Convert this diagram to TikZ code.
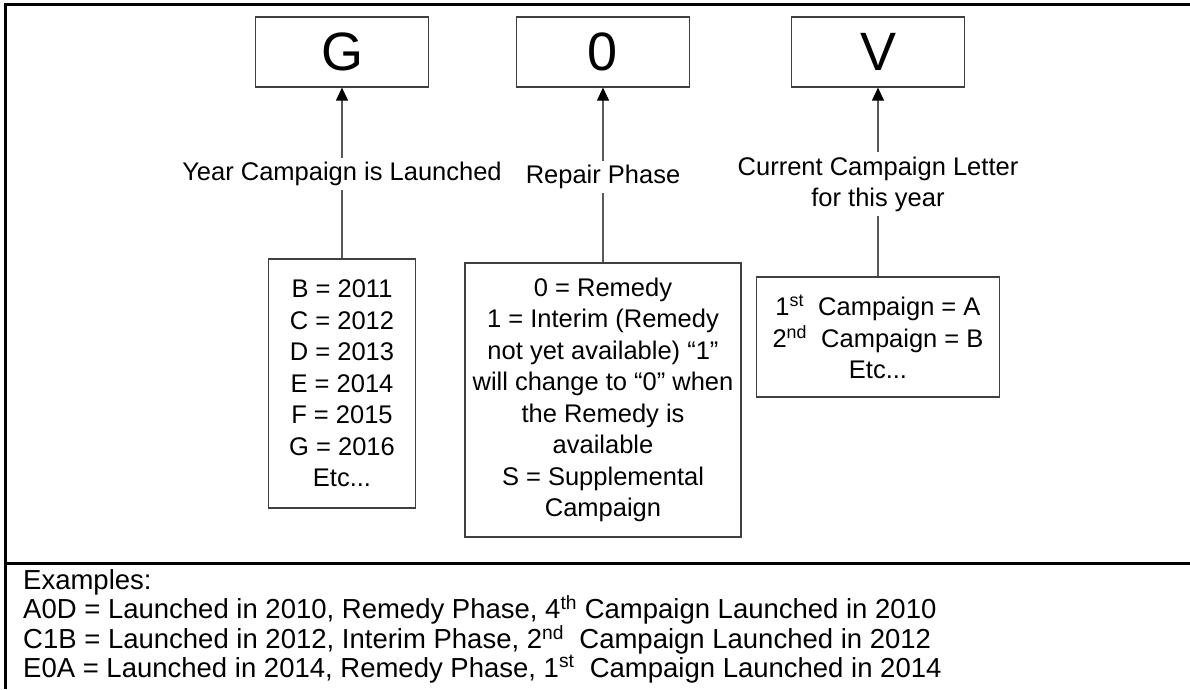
\documentclass[tikz,border=0pt]{standalone}
\usepackage{fontspec}
\setmainfont{Liberation Sans}
\usetikzlibrary{arrows.meta}

\begin{document}
\begin{tikzpicture}[
  x=1pt, y=-1pt,
  letterbox/.style={rectangle, draw=black!75, line width=1.2pt, minimum width=173pt, minimum height=70pt, inner sep=0pt, font=\fontsize{54}{60}\selectfont},
  codebox/.style={rectangle, draw=black!75, line width=1.2pt, align=center, inner sep=0pt, font=\fontsize{25.5}{31.5}\selectfont},
  desc/.style={align=center, inner sep=4pt, font=\fontsize{25.5}{31}\selectfont},
  feed/.style={-{Triangle[length=13pt, width=12pt, color=black]}, draw=black!65, line width=1.2pt},
  link/.style={draw=black!65, line width=1.2pt},
  frame/.style={line width=3pt}
]
\useasboundingbox (0,0) rectangle (1190,689);

% ======================
% FRAME
% ======================
\coordinate (corner) at (5,4);
\coordinate (topend) at (1190,4);
\coordinate (leftend) at (5,689);
\coordinate (splitl) at (5,563);
\coordinate (splitr) at (1190,563);
\draw[frame] (leftend) -- (corner) -- (topend);
\draw[frame] (splitl) -- (splitr);

% ======================
% CODE LETTERS
% ======================
\node[letterbox] (year) at (342,52) {G};
\node[letterbox] (phase) at (603,52) {0};
\node[letterbox] (letter) at (878,52) {V};

% ======================
% DESCRIPTIONS
% ======================
\node[desc] (year_lbl) at (342,174) {Year Campaign is Launched};
\node[desc] (phase_lbl) at (603,177) {Repair Phase};
\node[desc] (letter_lbl) at (878,184) {Current Campaign Letter\\for this year};

% ======================
% VALUES
% ======================
\node[codebox, minimum width=147pt, minimum height=249pt] (year_vals) at (342,383.5) {
B = 2011\\
C = 2012\\
D = 2013\\
E = 2014\\
F = 2015\\
G = 2016\\
Etc...
};

\node[codebox, minimum width=276pt, minimum height=274pt] (phase_vals) at (603,400) {
0 = Remedy\\
1 = Interim (Remedy\\
not yet available) “1”\\
will change to “0” when\\
the Remedy is\\
available\\
S = Supplemental\\
Campaign
};

\node[codebox, minimum width=243pt, minimum height=120pt] (letter_vals) at (878,337) {
1\textsuperscript{st}\ \ Campaign = A\\
2\textsuperscript{nd}\ \ Campaign = B\\
Etc...
};

% ======================
% EXAMPLES
% ======================
\node[anchor=north west, align=left, inner sep=0pt, font=\fontsize{27.5}{28.5}\selectfont] (examples) at (23,569) {
Examples:\\
A0D = Launched in 2010, Remedy Phase, 4\textsuperscript{th} Campaign Launched in 2010\\
C1B = Launched in 2012, Interim Phase, 2\textsuperscript{nd}\ \ Campaign Launched in 2012\\
E0A = Launched in 2014, Remedy Phase, 1\textsuperscript{st}\ \ Campaign Launched in 2014
};

% ======================
% CONNECTIONS
% ======================
\draw[feed] (year_lbl) -- (year);
\draw[feed] (phase_lbl) -- (phase);
\draw[feed] (letter_lbl) -- (letter);

\draw[link] (year_lbl) -- (year_vals);
\draw[link] (phase_lbl) -- (phase_vals);
\draw[link] (letter_lbl) -- (letter_vals);

\end{tikzpicture}
\end{document}
